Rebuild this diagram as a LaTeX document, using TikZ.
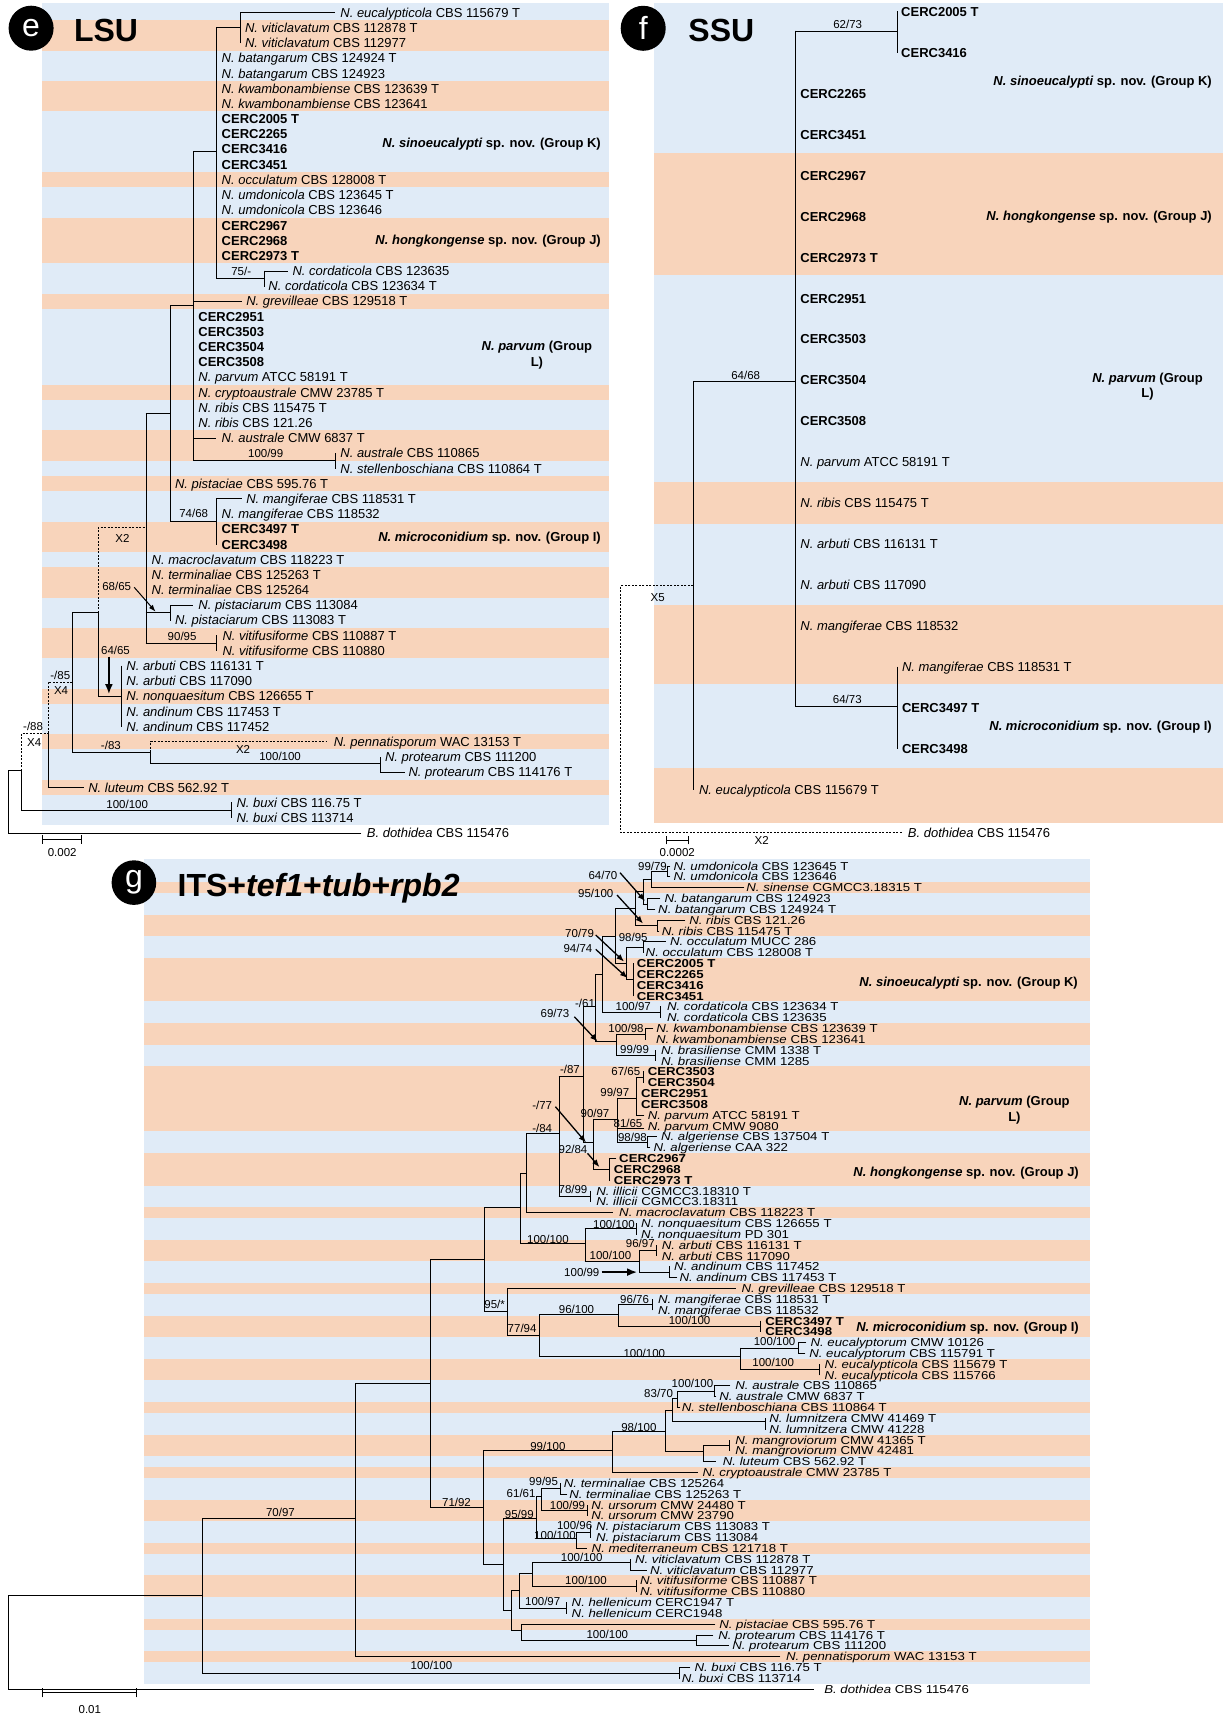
\documentclass[tikz,border=0pt]{standalone}
\usepackage{fontspec}
\setmainfont{Liberation Sans}
\newfontfamily\itsfont[FakeStretch=1.15]{Liberation Sans}
\usetikzlibrary{arrows.meta}
\definecolor{bblue}{RGB}{224,235,247}
\definecolor{bpeach}{RGB}{248,212,187}
\newcommand\Sn[1]{\textit{#1}}
\newcommand\Hb[3]{\draw[br] (#1,#3) -- (#2,#3);}
\newcommand\Vb[3]{\draw[br] (#1,#2) -- (#1,#3);}
\newcommand\Lf[3]{\node[lf] at (#1,#2) {#3};}
\newcommand\Bs[3]{\node[bs] at (#1,#2) {#3};}
\newcommand\Pb[4]{\fill[bpeach] (#1,#3) rectangle (#2,#4);}
\newcommand\Grp[3]{\node[grp] at (#1,#2) {#3};}
\tikzset{
  br/.style={line width=0.8pt, line cap=rect},
  dbr/.style={line width=0.7pt, dash pattern=on 2pt off 1.5pt},
  lf/.style={anchor=base west, inner sep=0pt, outer sep=0pt, font=\fontsize{13}{13}\selectfont, yshift=-4.6pt},
  bs/.style={anchor=base, inner sep=0pt, font=\fontsize{11.5}{11.5}\selectfont, yshift=-4.1pt},
  grp/.style={anchor=base east, inner sep=0pt, font=\bfseries\fontsize{13}{13}\selectfont, yshift=-4.6pt},
  grpc/.style={anchor=base, inner sep=0pt, font=\bfseries\fontsize{13}{13}\selectfont, yshift=-4.6pt},
  ttl/.style={anchor=base west, inner sep=0pt, font=\bfseries\fontsize{32}{32}\selectfont, yshift=-11.5pt},
  cl/.style={text=white, inner sep=0pt, font=\fontsize{32}{32}\selectfont},
  arw/.style={line width=1.3pt, -{Latex[length=7.5pt,width=6pt]}},
  arwb/.style={line width=1.6pt, -{Latex[length=10pt,width=8pt]}},
}
\begin{document}
\begin{tikzpicture}[x=1pt,y=-1pt]
\useasboundingbox (0,0) rectangle (1223,1715);
% ================= LSU =================
\fill[bblue] (42,3.3) rectangle (609,825.4);
\Pb{42}{609}{20.3}{50.7}\Pb{42}{609}{81.1}{111.4}\Pb{42}{609}{172.2}{187.4}
\Pb{42}{609}{217.8}{263.3}\Pb{42}{609}{293.7}{308.9}\Pb{42}{609}{384.9}{400.1}
\Pb{42}{609}{430.4}{460.8}\Pb{42}{609}{476.0}{491.2}\Pb{42}{609}{521.6}{552.0}
\Pb{42}{609}{567.1}{597.5}\Pb{42}{609}{627.9}{658.3}\Pb{42}{609}{688.7}{703.9}
\Pb{42}{609}{734.2}{749.4}\Pb{42}{609}{779.8}{795.0}
\fill[black] (31.1,28.2) circle (22.5);
\node[cl] (lsuletter) at (31.1,28.2) {e};
\node[ttl] (lsutitle) at (73.9,30) {LSU};
% tree
\Hb{240.4}{334.6}{12.7}
\Vb{240.4}{12.7}{43.1}
\Hb{216.7}{240.4}{27.9}
\Vb{216.7}{27.9}{278.5}
\Vb{264.5}{270.9}{286.1}
\Hb{264.5}{287.9}{270.9}
\Hb{216.7}{264.5}{278.5}
\Hb{193.7}{216.7}{151.7}
\Vb{193.7}{151.7}{460.8}
\Hb{193.7}{241.2}{301.3}
\Hb{193.7}{215.9}{438.0}
\Hb{193.7}{335.4}{460.8}
\Vb{335.4}{453.2}{468.4}
\Hb{170}{193.7}{305}
\Vb{170}{305}{521.6}
\Hb{170}{216.7}{521.6}
\Vb{216.7}{498.8}{544.4}
\Hb{216.7}{241.2}{498.8}
\Hb{145.9}{170}{413.3}
\Vb{145.9}{413.3}{643.1}
\Hb{145.9}{170}{612.7}
\Vb{170}{605.1}{620.3}
\Hb{170}{192.6}{605.1}
\Hb{145.9}{216.7}{643.1}
\Vb{216.7}{635.5}{650.7}
\draw[dbr] (98.4,612.7) -- (98.4,527.3) -- (145.9,527.3);
\Vb{98.4}{612.7}{696.3}
\Hb{98.4}{121.8}{696.3}
\Vb{121.8}{665.9}{726.6}
\Hb{72.4}{98.4}{612.7}
\Vb{72.4}{612.7}{752.3}
\Hb{72.4}{150.6}{752.3}
\draw[dbr] (150.6,752.3) -- (150.6,741.8) -- (326.8,741.8);
\Vb{150.6}{752.3}{763.3}
\Hb{150.6}{380.1}{763.3}
\Vb{380.1}{757.0}{772.2}
\Hb{380.1}{404.6}{772.2}
\draw[dbr] (47.9,733.3) -- (47.9,682.3) -- (72.4,682.3);
\Vb{47.9}{733.3}{787.4}
\Hb{47.9}{83.6}{787.4}
\draw[dbr] (21.4,770.7) -- (21.4,733.3) -- (47.9,733.3);
\Vb{21.4}{770.7}{810.2}
\Hb{21.4}{231.5}{810.2}
\Vb{231.5}{802.6}{817.8}
\Hb{8.6}{21.4}{770.7}
\Vb{8.6}{770.7}{833}
\Hb{8.6}{361}{833}
% leaves
\Lf{340.4}{12.7}{\Sn{N. eucalypticola} CBS 115679 T}
\Lf{245.1}{27.9}{\Sn{N. viticlavatum} CBS 112878 T}
\Lf{245.1}{43.1}{\Sn{N. viticlavatum} CBS 112977}
\Lf{221.7}{58.3}{\Sn{N. batangarum} CBS 124924 T}
\Lf{221.7}{73.5}{\Sn{N. batangarum} CBS 124923}
\Lf{221.7}{88.7}{\Sn{N. kwambonambiense} CBS 123639 T}
\Lf{221.7}{103.8}{\Sn{N. kwambonambiense} CBS 123641}
\Lf{221.7}{119.0}{\textbf{CERC2005 T}}
\Lf{221.7}{134.2}{\textbf{CERC2265}}
\Lf{221.7}{149.4}{\textbf{CERC3416}}
\Lf{221.7}{164.6}{\textbf{CERC3451}}
\Lf{221.7}{179.8}{\Sn{N. occulatum} CBS 128008 T}
\Lf{221.7}{195.0}{\Sn{N. umdonicola} CBS 123645 T}
\Lf{221.7}{210.2}{\Sn{N. umdonicola} CBS 123646}
\Lf{221.7}{225.4}{\textbf{CERC2967}}
\Lf{221.7}{240.6}{\textbf{CERC2968}}
\Lf{221.7}{255.7}{\textbf{CERC2973 T}}
\Lf{292.6}{270.9}{\Sn{N. cordaticola} CBS 123635}
\Lf{268.4}{286.1}{\Sn{N. cordaticola} CBS 123634 T}
\Lf{246.3}{301.3}{\Sn{N. grevilleae} CBS 129518 T}
\Lf{198.4}{316.5}{\textbf{CERC2951}}
\Lf{198.4}{331.7}{\textbf{CERC3503}}
\Lf{198.4}{346.9}{\textbf{CERC3504}}
\Lf{198.4}{362.1}{\textbf{CERC3508}}
\Lf{198.4}{377.3}{\Sn{N. parvum} ATCC 58191 T}
\Lf{198.4}{392.5}{\Sn{N. cryptoaustrale} CMW 23785 T}
\Lf{198.4}{407.6}{\Sn{N. ribis} CBS 115475 T}
\Lf{198.4}{422.8}{\Sn{N. ribis} CBS 121.26}
\Lf{221.7}{438.0}{\Sn{N. australe} CMW 6837 T}
\Lf{340.4}{453.2}{\Sn{N. australe} CBS 110865}
\Lf{340.4}{468.4}{\Sn{N. stellenboschiana} CBS 110864 T}
\Lf{175}{483.6}{\Sn{N. pistaciae} CBS 595.76 T}
\Lf{246.3}{498.8}{\Sn{N. mangiferae} CBS 118531 T}
\Lf{221.7}{514.0}{\Sn{N. mangiferae} CBS 118532}
\Lf{221.7}{529.2}{\textbf{CERC3497 T}}
\Lf{221.7}{544.4}{\textbf{CERC3498}}
\Lf{151.7}{559.5}{\Sn{N. macroclavatum} CBS 118223 T}
\Lf{151.7}{574.7}{\Sn{N. terminaliae} CBS 125263 T}
\Lf{151.7}{589.9}{\Sn{N. terminaliae} CBS 125264}
\Lf{198.4}{605.1}{\Sn{N. pistaciarum} CBS 113084}
\Lf{175}{620.3}{\Sn{N. pistaciarum} CBS 113083 T}
\Lf{222.5}{635.5}{\Sn{N. vitifusiforme} CBS 110887 T}
\Lf{222.5}{650.7}{\Sn{N. vitifusiforme} CBS 110880}
\Lf{126.4}{665.9}{\Sn{N. arbuti} CBS 116131 T}
\Lf{126.4}{681.1}{\Sn{N. arbuti} CBS 117090}
\Lf{126.4}{696.3}{\Sn{N. nonquaesitum} CBS 126655 T}
\Lf{126.4}{711.4}{\Sn{N. andinum} CBS 117453 T}
\Lf{126.4}{726.6}{\Sn{N. andinum} CBS 117452}
\Lf{333.8}{741.8}{\Sn{N. pennatisporum} WAC 13153 T}
\Lf{385.1}{757.0}{\Sn{N. protearum} CBS 111200}
\Lf{408.5}{772.2}{\Sn{N. protearum} CBS 114176 T}
\Lf{88.3}{787.4}{\Sn{N. luteum} CBS 562.92 T}
\Lf{236.5}{802.6}{\Sn{N. buxi} CBS 116.75 T}
\Lf{236.5}{817.8}{\Sn{N. buxi} CBS 113714}
\Lf{366.9}{833.0}{\Sn{B. dothidea} CBS 115476}
% supports
\Bs{241.2}{271}{75/-}
\Bs{265.7}{453}{100/99}
\Bs{193.7}{513}{74/68}
\Bs{122.5}{538.3}{X2}
\Bs{116.7}{586}{68/65}
\Bs{182.1}{636}{90/95}
\Bs{115.5}{650.7}{64/65}
\Bs{60.3}{675}{-/85}
\Bs{61.1}{690.7}{X4}
\Bs{33.1}{726.7}{-/88}
\Bs{34.2}{742.7}{X4}
\Bs{110.9}{745}{-/83}
\Bs{243.1}{749.3}{X2}
\Bs{280.1}{756.7}{100/100}
\Bs{127.2}{804}{100/100}
\draw[line width=1pt, -{Latex[length=7pt,width=5pt]}] (134.2,587.3) -- (155.6,611.7);
\draw[arwb] (108.9,656.7) -- (108.9,694);
\draw[br] (42,839.3) -- (81.7,839.3) (42,835) -- (42,843.6) (81.7,835) -- (81.7,843.6);
\Bs{62.2}{852.7}{0.002}
% groups
\Grp{601}{142.7}{\textit{N. sinoeucalypti} sp. nov. (Group K)}
\Grp{601}{240.3}{\textit{N. hongkongense} sp. nov. (Group J)}
\node[grpc] at (536.9,345.7) {\textit{N. parvum} (Group};
\node[grpc] at (536.9,361.7) {L)};
\Grp{601}{536.7}{\textit{N. microconidium} sp. nov. (Group I)}
% ================= SSU =================
\fill[bblue] (654.2,3.3) rectangle (1223,823.3);
\Pb{654.2}{1223}{153.3}{275}\Pb{654.2}{1223}{481.7}{524}
\Pb{654.2}{1223}{605}{684}\Pb{654.2}{1223}{767.7}{823.3}
\fill[black] (643.2,28.3) circle (22.5);
\node[cl] (ssuletter) at (643.2,28.3) {f};
\node[ttl] (ssutitle) at (688.2,30) {SSU};
\Vb{897.3}{11.7}{52.7}
\Hb{795.7}{897.3}{31}
\Vb{795.7}{31}{706}
\Hb{795.7}{897.3}{706}
\Vb{897.3}{666.9}{748.8}
\Hb{693.3}{795.7}{381}
\Vb{693.3}{381}{789.8}
\draw[dbr] (693.3,585.7) -- (620.6,585.7) -- (620.6,832.3) -- (902.4,832.3);
\Lf{901.2}{11.7}{\textbf{CERC2005 T}}
\Lf{901.2}{52.7}{\textbf{CERC3416}}
\Lf{800.4}{93.6}{\textbf{CERC2265}}
\Lf{800.4}{134.6}{\textbf{CERC3451}}
\Lf{800.4}{175.5}{\textbf{CERC2967}}
\Lf{800.4}{216.5}{\textbf{CERC2968}}
\Lf{800.4}{257.4}{\textbf{CERC2973 T}}
\Lf{800.4}{298.4}{\textbf{CERC2951}}
\Lf{800.4}{339.3}{\textbf{CERC3503}}
\Lf{800.4}{380.3}{\textbf{CERC3504}}
\Lf{800.4}{421.2}{\textbf{CERC3508}}
\Lf{800.4}{462.2}{\Sn{N. parvum} ATCC 58191 T}
\Lf{800.4}{503.1}{\Sn{N. ribis} CBS 115475 T}
\Lf{800.4}{544.1}{\Sn{N. arbuti} CBS 116131 T}
\Lf{800.4}{585.0}{\Sn{N. arbuti} CBS 117090}
\Lf{800.4}{626.0}{\Sn{N. mangiferae} CBS 118532}
\Lf{902}{666.9}{\Sn{N. mangiferae} CBS 118531 T}
\Lf{902}{707.9}{\textbf{CERC3497 T}}
\Lf{902}{748.8}{\textbf{CERC3498}}
\Lf{699.1}{789.8}{\Sn{N. eucalypticola} CBS 115679 T}
\Lf{907.9}{833.3}{\Sn{B. dothidea} CBS 115476}
\Bs{847.7}{24}{62/73}
\Bs{847.3}{699.3}{64/73}
\Bs{745.7}{375}{64/68}
\Bs{657.7}{597.7}{X5}
\Bs{761.7}{840.7}{X2}
\draw[br] (666.7,840) -- (688.2,840) (666.7,836) -- (666.7,844) (688.2,836) -- (688.2,844);
\Bs{677.2}{852.7}{0.0002}
\Grp{1212}{81}{\textit{N. sinoeucalypti} sp. nov. (Group K)}
\Grp{1212}{216}{\textit{N. hongkongense} sp. nov. (Group J)}
\node[grpc] at (1147.5,377.7) {\textit{N. parvum} (Group};
\node[grpc] at (1147.5,393.3) {L)};
\Grp{1212}{725.7}{\textit{N. microconidium} sp. nov. (Group I)}
% ================= ITS =================
\fill[bblue] (143.9,858.9) rectangle (1090,1683.7);
\Pb{143.9}{1090}{882.3}{893.1}\Pb{143.9}{1090}{914.8}{936.4}\Pb{143.9}{1090}{958.1}{1001.4}
\Pb{143.9}{1090}{1023.1}{1044.7}\Pb{143.9}{1090}{1066.4}{1131.3}\Pb{143.9}{1090}{1153.0}{1185.5}
\Pb{143.9}{1090}{1207.2}{1218.0}\Pb{143.9}{1090}{1239.7}{1261.3}\Pb{143.9}{1090}{1283.0}{1293.8}
\Pb{143.9}{1090}{1315.5}{1337.1}\Pb{143.9}{1090}{1358.8}{1380.4}\Pb{143.9}{1090}{1402.1}{1412.9}
\Pb{143.9}{1090}{1434.6}{1456.2}\Pb{143.9}{1090}{1467.1}{1477.9}\Pb{143.9}{1090}{1499.6}{1521.2}
\Pb{143.9}{1090}{1542.9}{1553.7}\Pb{143.9}{1090}{1575.4}{1597.0}\Pb{143.9}{1090}{1618.7}{1629.5}
\Pb{143.9}{1090}{1651.2}{1662.0}
\fill[black] (133.9,882.6) circle (22.3);
\node[cl] (itsletter) at (133.9,882.6) {g};
\node[ttl] (itstitle) at (177.5,884.8) {ITS+\textit{tef1}+\textit{tub}+\textit{rpb2}};
\begin{scope}[lf/.style={anchor=base west, inner sep=0pt, outer sep=0pt, font=\itsfont\fontsize{11.5}{11.5}\selectfont, yshift=-4.1pt}]
% A clade
\Vb{667}{866}{876.8}\Hb{667}{670}{866}\Hb{667}{670}{876.8}
\Lf{673.6}{866}{\Sn{N. umdonicola} CBS 123645 T}
\Lf{673.6}{876.8}{\Sn{N. umdonicola} CBS 123646}
\Hb{651}{667}{871.4}
\Vb{651}{871.4}{887.7}\Hb{651}{744}{887.7}
\Lf{746.4}{887.7}{\Sn{N. sinense} CGMCC3.18315 T}
\Hb{642.9}{651}{879.5}
\Vb{647.5}{898.5}{909.3}\Hb{647.5}{660}{898.5}\Hb{647.5}{655}{909.3}
\Lf{664.6}{898.5}{\Sn{N. batangarum} CBS 124923}
\Lf{658.2}{909.3}{\Sn{N. batangarum} CBS 124924 T}
\Hb{642.9}{647.5}{903.9}
\Vb{642.9}{879.5}{903.9}
\Hb{635}{642.9}{891.7}
\Vb{657}{920.2}{931}\Hb{657}{685}{920.2}\Hb{657}{659}{931}
\Lf{689.3}{920.2}{\Sn{N. ribis} CBS 121.26}
\Lf{661.8}{931}{\Sn{N. ribis} CBS 115475 T}
\Hb{635}{657}{925.6}
\Vb{635}{891.7}{925.6}
\Hb{615.4}{635}{908.7}
\Vb{643}{941.8}{952.6}\Hb{643}{665.4}{941.8}
\Lf{670}{941.8}{\Sn{N. occulatum} MUCC 286}
\Lf{645.7}{952.6}{\Sn{N. occulatum} CBS 128008 T}
\Hb{626}{643}{947.2}
\Vb{633.2}{963.5}{996}
\Lf{636.8}{963.5}{\textbf{CERC2005 T}}
\Lf{636.8}{974.3}{\textbf{CERC2265}}
\Lf{636.8}{985.1}{\textbf{CERC3416}}
\Lf{636.8}{996}{\textbf{CERC3451}}
\Hb{626}{633.2}{979.7}
\Vb{626}{947.2}{979.7}
\Hb{615.4}{626}{963.5}
\Vb{615.4}{908.7}{963.5}
\Hb{602.1}{615.4}{936.1}
\Vb{660.7}{1006.8}{1017.6}
\Lf{667.1}{1006.8}{\Sn{N. cordaticola} CBS 123634 T}
\Lf{667.1}{1017.6}{\Sn{N. cordaticola} CBS 123635}
\Hb{602.1}{660.7}{1012.2}
\Vb{602.1}{936.1}{1012.2}
\Hb{595.7}{602.1}{974.2}
\Vb{595.7}{974.2}{1041.7}
\Vb{645.7}{1028.5}{1039.3}\Hb{645.7}{653}{1028.5}
\Lf{656.4}{1028.5}{\Sn{N. kwambonambiense} CBS 123639 T}
\Lf{656}{1039.3}{\Sn{N. kwambonambiense} CBS 123641}
\Hb{616.5}{645.7}{1033.9}
\Vb{655.3}{1050.1}{1060.9}
\Lf{661}{1050.1}{\Sn{N. brasiliense} CMM 1338 T}
\Lf{661}{1060.9}{\Sn{N. brasiliense} CMM 1285}
\Hb{616.5}{655.3}{1055.5}
\Vb{616.5}{1033.9}{1055.5}
\Hb{595.7}{616.5}{1041.7}
\Hb{583.1}{595.7}{1006.7}
\Vb{583.1}{1006.7}{1142.7}
% parvum clade
\Vb{643.4}{1071.8}{1082.6}
\Lf{647.8}{1071.8}{\textbf{CERC3503}}
\Lf{647.8}{1082.6}{\textbf{CERC3504}}
\Hb{636.8}{643.4}{1077.2}
\Vb{636.8}{1077.2}{1115.1}
\Lf{641}{1093.4}{\textbf{CERC2951}}
\Lf{641}{1104.3}{\textbf{CERC3508}}
\Hb{636.8}{644}{1115.1}
\Lf{647.8}{1115.1}{\Sn{N. parvum} ATCC 58191 T}
\Hb{617}{636.8}{1098.3}
\Hb{617}{644}{1128}
\Lf{647.8}{1125.9}{\Sn{N. parvum} CMW 9080}
\Vb{647.8}{1136.8}{1147.6}\Hb{647.8}{656.6}{1136.8}\Hb{647.8}{650}{1147.6}
\Lf{661}{1136.8}{\Sn{N. algeriense} CBS 137504 T}
\Lf{653.5}{1147.6}{\Sn{N. algeriense} CAA 322}
\Hb{617}{647.8}{1142.2}
\Vb{617}{1098.3}{1142.2}
\Hb{593.7}{617}{1119.3}
\Vb{609.5}{1158.4}{1180.1}\Hb{609.5}{616}{1158.4}
\Lf{619.2}{1158.4}{\textbf{CERC2967}}
\Lf{613.9}{1169.2}{\textbf{CERC2968}}
\Lf{613.9}{1180.1}{\textbf{CERC2973 T}}
\Hb{593.7}{609.5}{1169.2}
\Vb{593.7}{1119.3}{1169.2}
\Hb{583.1}{593.7}{1142.7}
\Hb{558.9}{583.1}{1076.7}
\Vb{590.6}{1190.9}{1201.7}
\Lf{596.3}{1190.9}{\Sn{N. illicii} CGMCC3.18310 T}
\Lf{596.3}{1201.7}{\Sn{N. illicii} CGMCC3.18311}
\Hb{558.9}{590.6}{1196.3}
\Vb{558.9}{1076.7}{1196.3}
\Hb{526.8}{558.9}{1133.3}
\Hb{526.8}{612.6}{1212.6}
\Lf{619.2}{1212.6}{\Sn{N. macroclavatum} CBS 118223 T}
\Vb{526.8}{1133.3}{1212.6}
\Hb{520.2}{526.8}{1173.3}
% nonquaesitum
\Vb{636.8}{1223.4}{1234.2}
\Lf{641.2}{1223.4}{\Sn{N. nonquaesitum} CBS 126655 T}
\Lf{641.2}{1234.2}{\Sn{N. nonquaesitum} PD 301}
\Hb{584.9}{636.8}{1228.8}
\Vb{656.6}{1245.1}{1255.9}
\Lf{661.9}{1245.1}{\Sn{N. arbuti} CBS 116131 T}
\Lf{661.9}{1255.9}{\Sn{N. arbuti} CBS 117090}
\Hb{639}{656.6}{1250.5}
\Vb{669.8}{1266.7}{1277.5}\Hb{669.8}{677}{1277.5}
\Lf{674.2}{1266.7}{\Sn{N. andinum} CBS 117452}
\Lf{679.5}{1277.5}{\Sn{N. andinum} CBS 117453 T}
\Hb{639}{669.8}{1272.1}
\Vb{639}{1250.5}{1272.1}
\Hb{584.9}{639}{1261.3}
\Vb{584.9}{1228.8}{1261.3}
\Hb{520.2}{584.9}{1243.3}
\Vb{520.2}{1173.3}{1243.3}
\Hb{484.6}{520.2}{1207.1}
% 95/* clade
\Hb{507.1}{735.8}{1288.4}
\Lf{741.5}{1288.4}{\Sn{N. grevilleae} CBS 129518 T}
\Vb{652.2}{1299.2}{1310}
\Lf{658}{1299.2}{\Sn{N. mangiferae} CBS 118531 T}
\Lf{658}{1310}{\Sn{N. mangiferae} CBS 118532}
\Hb{618.3}{652.2}{1304.6}
\Vb{760}{1320.9}{1331.7}
\Lf{765.3}{1320.9}{\textbf{CERC3497 T}}
\Lf{765.3}{1331.7}{\textbf{CERC3498}}
\Hb{618.3}{760}{1326.3}
\Vb{618.3}{1304.6}{1326.3}
\Hb{539.3}{618.3}{1314.3}
\Vb{798.8}{1342.5}{1353.4}\Hb{798.8}{806}{1342.5}\Hb{798.8}{805}{1353.4}
\Lf{810.6}{1342.5}{\Sn{N. eucalyptorum} CMW 10126}
\Lf{809.3}{1353.4}{\Sn{N. eucalyptorum} CBS 115791 T}
\Hb{740.7}{798.8}{1347.9}
\Vb{819.4}{1364.2}{1375}
\Lf{824.7}{1364.2}{\Sn{N. eucalypticola} CBS 115679 T}
\Lf{824.7}{1375}{\Sn{N. eucalypticola} CBS 115766}
\Hb{740.7}{819.4}{1369.6}
\Vb{740.7}{1347.9}{1369.6}
\Hb{539.3}{740.7}{1356.7}
\Vb{539.3}{1314.3}{1356.7}
\Hb{507.1}{539.3}{1335.3}
\Vb{507.1}{1288.4}{1335.3}
\Hb{484.6}{507.1}{1311.2}
\Vb{484.6}{1207.1}{1311.2}
\Hb{430.4}{484.6}{1259.4}
% australe clade
\Vb{713.9}{1385.8}{1396.7}\Hb{713.9}{730}{1385.8}\Hb{713.9}{716}{1396.7}
\Lf{735.4}{1385.8}{\Sn{N. australe} CBS 110865}
\Lf{719.3}{1396.7}{\Sn{N. australe} CMW 6837 T}
\Hb{677.1}{713.9}{1391.2}
\Hb{677.1}{680}{1407.5}
\Lf{681.8}{1407.5}{\Sn{N. stellenboschiana} CBS 110864 T}
\Vb{677.1}{1391.2}{1407.5}
\Hb{672.1}{677.1}{1398}
\Vb{765}{1418.3}{1429.2}
\Lf{769.3}{1418.3}{\Sn{N. lumnitzera} CMW 41469 T}
\Lf{769.3}{1429.2}{\Sn{N. lumnitzera} CMW 41228}
\Hb{672.1}{765}{1421.7}
\Vb{672.1}{1398}{1421.7}
\Hb{665.7}{672.1}{1410}
\Vb{729.3}{1440}{1450.8}
\Lf{735.4}{1440}{\Sn{N. mangroviorum} CMW 41365 T}
\Lf{735.4}{1450.8}{\Sn{N. mangroviorum} CMW 42481}
\Hb{703.2}{729.3}{1445.4}
\Hb{703.2}{715.7}{1461.7}
\Lf{722.9}{1461.7}{\Sn{N. luteum} CBS 562.92 T}
\Vb{703.2}{1445.4}{1461.7}
\Hb{665.7}{703.2}{1451}
\Vb{665.7}{1410}{1451}
\Hb{612.1}{665.7}{1431}
\Hb{612.1}{697.9}{1472.5}
\Lf{702.5}{1472.5}{\Sn{N. cryptoaustrale} CMW 23785 T}
\Vb{612.1}{1431}{1472.5}
\Hb{483.6}{612.1}{1450.7}
% terminaliae clade
\Vb{560.4}{1483.3}{1494.1}\Hb{560.4}{567}{1494.1}
\Lf{563.9}{1483.3}{\Sn{N. terminaliae} CBS 125264}
\Lf{569.3}{1494.1}{\Sn{N. terminaliae} CBS 125263 T}
\Hb{541.8}{560.4}{1488.7}
\Vb{587.1}{1505}{1515.8}
\Lf{591.4}{1505}{\Sn{N. ursorum} CMW 24480 T}
\Lf{591.4}{1515.8}{\Sn{N. ursorum} CMW 23790}
\Hb{541.8}{587.1}{1510.4}
\Vb{541.8}{1488.7}{1510.4}
\Hb{536.1}{541.8}{1496.7}
\Vb{590.7}{1526.6}{1537.5}
\Lf{596.1}{1526.6}{\Sn{N. pistaciarum} CBS 113083 T}
\Lf{596.1}{1537.5}{\Sn{N. pistaciarum} CBS 113084}
\Hb{576.4}{590.7}{1532}
\Hb{576.4}{586.7}{1548.3}
\Lf{591.7}{1548.3}{\Sn{N. mediterraneum} CBS 121718 T}
\Vb{576.4}{1532}{1548.3}
\Hb{536.1}{576.4}{1538.3}
\Vb{536.1}{1496.7}{1538.3}
\Hb{503.3}{536.1}{1518.3}
\Vb{630}{1559.1}{1570}\Hb{630}{646.7}{1570}
\Lf{635}{1559.1}{\Sn{N. viticlavatum} CBS 112878 T}
\Lf{650}{1570}{\Sn{N. viticlavatum} CBS 112977}
\Hb{532.7}{630}{1562}
\Vb{636}{1580.8}{1591.6}
\Lf{640}{1580.8}{\Sn{N. vitifusiforme} CBS 110887 T}
\Lf{640}{1591.6}{\Sn{N. vitifusiforme} CBS 110880}
\Hb{532.7}{636}{1586.2}
\Vb{532.7}{1562}{1586.2}
\Hb{519.3}{532.7}{1573.3}
\Vb{566.7}{1602.4}{1613.3}
\Lf{571.7}{1602.4}{\Sn{N. hellenicum} CERC1947 T}
\Lf{571.7}{1613.3}{\Sn{N. hellenicum} CERC1948}
\Hb{519.3}{566.7}{1608}
\Vb{519.3}{1573.3}{1608}
\Hb{511.7}{519.3}{1590}
\Hb{521.7}{715}{1624.1}
\Lf{719.3}{1624.1}{\Sn{N. pistaciae} CBS 595.76 T}
\Vb{696.7}{1634.9}{1645.8}\Hb{696.7}{713}{1634.9}\Hb{696.7}{728.3}{1645.8}
\Lf{718.3}{1634.9}{\Sn{N. protearum} CBS 114176 T}
\Lf{732.3}{1645.8}{\Sn{N. protearum} CBS 111200}
\Hb{521.7}{696.7}{1640.3}
\Vb{521.7}{1624.1}{1640.3}
\Hb{511.7}{521.7}{1630}
\Vb{511.7}{1590}{1630}
\Hb{503.3}{511.7}{1610}
\Vb{503.3}{1518.3}{1610}
\Hb{483.6}{503.3}{1564}
\Vb{483.6}{1450.7}{1564}
\Hb{430.4}{483.6}{1507.1}
\Vb{430.4}{1259.4}{1507.1}
\Hb{355.5}{430.4}{1383.5}
\Hb{355.5}{780}{1656.6}
\Lf{786}{1656.6}{\Sn{N. pennatisporum} WAC 13153 T}
\Vb{355.5}{1383.5}{1656.6}
\Hb{202.2}{355.5}{1518.3}
\Vb{679.1}{1667.4}{1678.3}\Hb{679.1}{690}{1667.4}
\Lf{694.5}{1667.4}{\Sn{N. buxi} CBS 116.75 T}
\Lf{681.9}{1678.3}{\Sn{N. buxi} CBS 113714}
\Hb{202.2}{679.1}{1672.9}
\Vb{202.2}{1518.3}{1672.9}
\Hb{8.4}{202.2}{1595}
\Vb{8.4}{1595}{1689.1}
\Hb{8.4}{813.8}{1689.1}
\Lf{824.3}{1689.1}{\Sn{B. dothidea} CBS 115476}
\end{scope}
% ITS supports
\Bs{652.5}{866}{99/79}
\Bs{602.9}{875}{64/70}
\Bs{595.7}{893.3}{95/100}
\Bs{633.2}{937.3}{98/95}
\Bs{579.6}{933.3}{70/79}
\Bs{577.9}{948.3}{94/74}
\Bs{633.2}{1006}{100/97}
\Bs{585}{1003.3}{-/61}
\Bs{626}{1028.3}{100/98}
\Bs{555}{1013}{69/73}
\Bs{634.6}{1049.3}{99/99}
\Bs{569.9}{1069.3}{-/87}
\Bs{625.8}{1071.7}{67/65}
\Bs{614.8}{1092.7}{99/97}
\Bs{595}{1113.3}{90/97}
\Bs{542.2}{1105}{-/77}
\Bs{628}{1123.5}{81/65}
\Bs{632.4}{1137.3}{98/98}
\Bs{542.2}{1128.3}{-/84}
\Bs{573}{1149.3}{92/84}
\Bs{573}{1189.3}{78/99}
\Bs{613.9}{1224}{100/100}
\Bs{547.9}{1239.3}{100/100}
\Bs{640.3}{1243.3}{96/97}
\Bs{610.4}{1255}{100/100}
\Bs{581.8}{1272.3}{100/99}
\Bs{494.6}{1304.5}{95/*}
\Bs{634.6}{1299.3}{96/76}
\Bs{576.5}{1309.3}{96/100}
\Bs{689.6}{1320}{100/100}
\Bs{522.1}{1328.6}{77/94}
\Bs{774.6}{1341.7}{100/100}
\Bs{644.3}{1353.3}{100/100}
\Bs{773.2}{1362.7}{100/100}
\Bs{692.5}{1383.3}{100/100}
\Bs{658.6}{1393.3}{83/70}
\Bs{638.9}{1427.3}{98/100}
\Bs{547.9}{1446}{99/100}
\Bs{456.5}{1502}{71/92}
\Bs{543.6}{1481}{99/95}
\Bs{521.1}{1493.3}{61/61}
\Bs{567.5}{1505}{100/99}
\Bs{519.3}{1514}{95/99}
\Bs{574.6}{1525}{100/96}
\Bs{555}{1535}{100/100}
\Bs{581.7}{1557.7}{100/100}
\Bs{586}{1580}{100/100}
\Bs{542.7}{1601.7}{100/97}
\Bs{607.3}{1634.3}{100/100}
\Bs{280.4}{1512.5}{70/97}
\Bs{431.4}{1665}{100/100}
\draw[arw] (620,872.7) -- (645,901);
\draw[arw] (617,895) -- (643,923.5);
\draw[arw] (595.7,935) -- (624,961.5);
\draw[arw] (595.7,949.3) -- (627.5,978);
\draw[arw] (574.3,1016.7) -- (597.5,1041.5);
\draw[arw] (555.4,1106.7) -- (586,1142.5);
\draw[arw] (587.5,1153.3) -- (599.4,1167);
\draw[arwb] (601.6,1272.1) -- (637,1272.1);
\draw[br] (42.1,1692.7) -- (136.8,1692.7) (42.1,1688.4) -- (42.1,1697) (136.8,1688.4) -- (136.8,1697);
\Bs{89.8}{1709.3}{0.01}
\Grp{1078}{981.7}{\textit{N. sinoeucalypti} sp. nov. (Group K)}
\node[grpc] at (1014.4,1101) {\textit{N. parvum} (Group};
\node[grpc] at (1014.4,1117.3) {L)};
\Grp{1079}{1171.7}{\textit{N. hongkongense} sp. nov. (Group J)}
\Grp{1079}{1326.7}{\textit{N. microconidium} sp. nov. (Group I)}
\end{tikzpicture}
\end{document}
